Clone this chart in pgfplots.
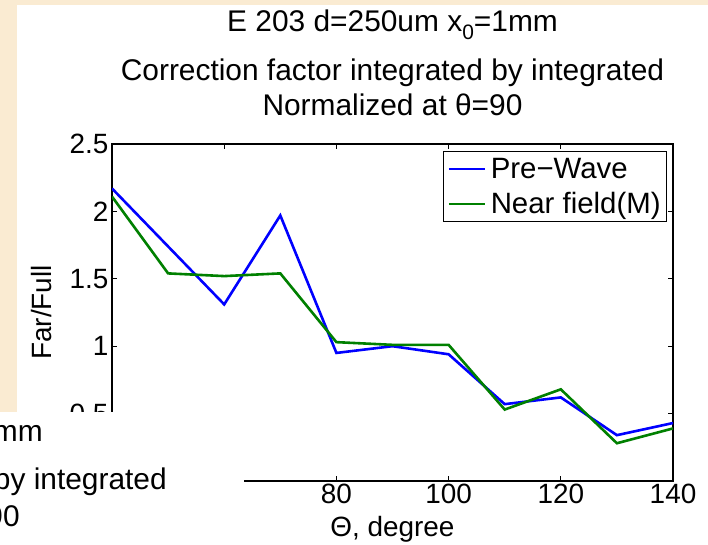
\documentclass[border=0pt]{standalone}
\usepackage{pgfplots}
\pgfplotsset{compat=1.18}
\usepackage{fontspec}
\setmainfont{Liberation Sans}
\definecolor{paper}{HTML}{FAEBD2}
\definecolor{mblue}{HTML}{0000FF}
\definecolor{mgreen}{HTML}{008000}
\newcommand{\figfont}{\fontsize{28}{30}\selectfont}
\newcommand{\legfont}{\fontsize{29.5}{31}\selectfont}
\newcommand{\titlefont}{\fontsize{30}{32}\selectfont}

\begin{document}
\begin{tikzpicture}[x=1bp,y=1bp]
\useasboundingbox (0,0) rectangle (708,545);
\fill[paper] (0,0) rectangle (708,545);
\fill[white] (17,0) rectangle (708,540);

% title
\node[anchor=base,font=\titlefont] at (392.5,513) {E 203 d=250um x\raisebox{-8bp}{\fontsize{21}{21}\selectfont 0}=1mm};
\node[anchor=base,font=\titlefont] at (392.5,464) {Correction factor integrated by integrated};
\node[anchor=base,font=\titlefont] at (392.5,429) {Normalized at θ=90};

\begin{axis}[at={(112bp,64bp)},anchor=south west,scale only axis,width=561bp,height=337bp,
  xmin=40,xmax=140,ymin=0,ymax=2.5,xtick={40,60,...,140},ytick={0,0.5,...,2.5},
  tick align=inside,major tick length=5bp,tick style={black,line width=1.2bp},
  axis line style={line width=1.5bp},
  ticklabel style={font=\figfont},/pgf/number format/assume math mode=true,
  yticklabel style={/pgf/number format/fixed},
  xlabel={Θ, degree},ylabel={Far/Full},label style={font=\figfont},
  xlabel style={at={(axis description cs:0.5,0)},anchor=base,yshift=-56bp},
  ylabel style={at={(axis description cs:-0.107,0.5)},anchor=base},
  legend style={at={(1,1)},anchor=north east,xshift=-6bp,yshift=-7bp,font=\legfont,
    draw=black,line width=0.8bp,inner xsep=4bp,inner ysep=5bp,row sep=8bp,
    nodes={inner sep=2bp},/tikz/every odd column/.append style={column sep=3bp}},
  legend cell align=left,
  legend image code/.code={\draw[#1,line width=2bp] (0bp,0bp) -- (36bp,0bp);},
  every axis plot/.append style={line width=2.6bp}]
\addplot[mblue] coordinates {(40,2.17)(50,1.74)(60,1.31)(70,1.97)(80,0.95)(90,1.00)(100,0.94)(110,0.57)(120,0.62)(130,0.34)(140,0.43)};
\addlegendentry{Pre−Wave}
\addplot[mgreen] coordinates {(40,2.11)(50,1.54)(60,1.52)(70,1.54)(80,1.03)(90,1.01)(100,1.01)(110,0.53)(120,0.68)(130,0.28)(140,0.39)};
\addlegendentry{Near field(M)}
\end{axis}

% overlapping second figure
\begin{scope}
\clip (0,0) rectangle (244,133);
\fill[white] (0,0) rectangle (244,133);
\node[anchor=base east,font=\titlefont,inner sep=0pt] at (43,103) {E 203 d=250um x\raisebox{-8bp}{\fontsize{21}{21}\selectfont 0}=1mm};
\node[anchor=base east,font=\titlefont,inner sep=0pt] at (167,55) {Correction factor integrated by integrated};
\node[anchor=base east,font=\titlefont,inner sep=0pt] at (20,18) {Normalized at θ=90};
\end{scope}
\end{tikzpicture}
\end{document}
